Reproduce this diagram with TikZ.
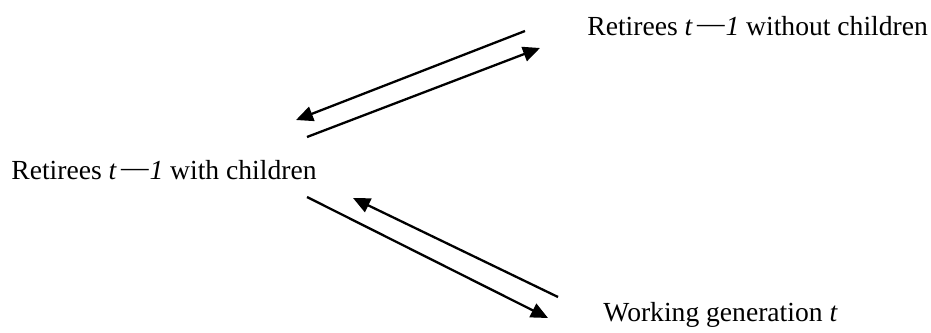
\documentclass[tikz,border=0pt]{standalone}
\usepackage{fontspec}
\setmainfont{Liberation Serif}
\usetikzlibrary{arrows.meta}
\newcommand{\lbltxt}[1]{\fontsize{13.8}{16}\selectfont #1}
\newcommand{\tminus}{\textit{t}\hspace{0.15em}\raisebox{0.1em}{—}\hspace{0.03em}\textit{1}}
\tikzset{
  lbl/.style={anchor=base west, inner sep=0pt},
  flow/.style={line width=1.15pt, -{Triangle[length=8.5pt,width=7.5pt]}}
}
\begin{document}
\begin{tikzpicture}[x=0.5pt,y=-0.5pt]
\useasboundingbox (0,0) rectangle (931,332);
\node[lbl] (top) at (587,35) {\lbltxt{Retirees \tminus{} without children}};
\node[lbl] (mid) at (11,179) {\lbltxt{Retirees \tminus{} with children}};
\node[lbl] (bot) at (603,321) {\lbltxt{Working generation \textit{t}}};
\coordinate (a1s) at (525,31);  \coordinate (a1e) at (296,120);
\coordinate (a2s) at (307,137); \coordinate (a2e) at (540,48);
\coordinate (a3s) at (307,197); \coordinate (a3e) at (548,318);
\coordinate (a4s) at (558,297); \coordinate (a4e) at (353,198);
\draw[flow] (a1s) -- (a1e);
\draw[flow] (a2s) -- (a2e);
\draw[flow] (a3s) -- (a3e);
\draw[flow] (a4s) -- (a4e);
\end{tikzpicture}
\end{document}
